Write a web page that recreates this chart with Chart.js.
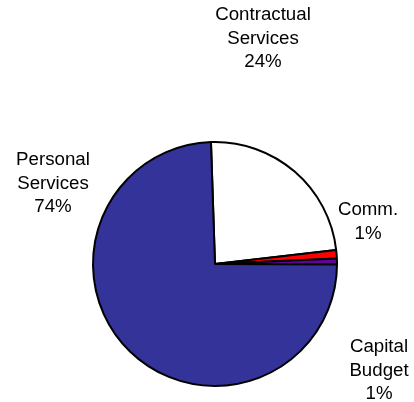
<!DOCTYPE html>
<html>
<head>
<meta charset="utf-8">
<script src="https://cdn.jsdelivr.net/npm/chart.js@4/dist/chart.umd.min.js"></script>
<style>
  html, body { margin: 0; padding: 0; background: #fff; }
  canvas { display: block; }
</style>
</head>
<body>
<canvas id="myChart" width="414" height="402"></canvas>
<script>
// budget shares, clockwise from the top
const categories = [["Contractual", "Services"], ["Comm."], ["Capital", "Budget"], ["Personal", "Services"]];
const values = [23.7, 1.1, 0.8, 74.4];
const colors = ["#ffffff", "#ff0000", "#660099", "#333399"];

// where each label block sits (center x, first line y)
const labelSpots = [
  { x: 263, y: 15 },
  { x: 368, y: 210 },
  { x: 379, y: 347 },
  { x: 53, y: 160 },
];

const total = values.reduce((a, b) => a + b, 0);

const pieLabels = {
  id: "pieLabels",
  afterDraw(chart) {
    const ctx = chart.ctx;
    ctx.save();
    ctx.font = "18.7px 'Liberation Sans', Arial, sans-serif";
    ctx.fillStyle = "#000";
    ctx.textAlign = "center";
    ctx.textBaseline = "middle";
    chart.getDatasetMeta(0).data.forEach((arc, i) => {
      const lines = categories[i].concat([Math.round((values[i] / total) * 100) + "%"]);
      const spot = labelSpots[i];
      lines.forEach((line, j) => {
        ctx.fillText(line, spot.x, spot.y + j * 23.5);
      });
    });
    ctx.restore();
  },
};

const ctx = document.getElementById("myChart").getContext("2d");
const myChart = new Chart(ctx, {
  type: "pie",
  data: {
    labels: categories.map((c) => c.join(" ")),
    datasets: [
      {
        data: values,
        backgroundColor: colors,
        borderColor: "#000",
        borderWidth: 2,
      },
    ],
  },
  options: {
    responsive: false,
    animation: false,
    rotation: -1.9,
    layout: { padding: { left: 92, right: 76, top: 141, bottom: 15 } },
    plugins: {
      legend: { display: false },
      tooltip: { enabled: false },
    },
  },
  plugins: [pieLabels],
});
</script>
</body>
</html>
